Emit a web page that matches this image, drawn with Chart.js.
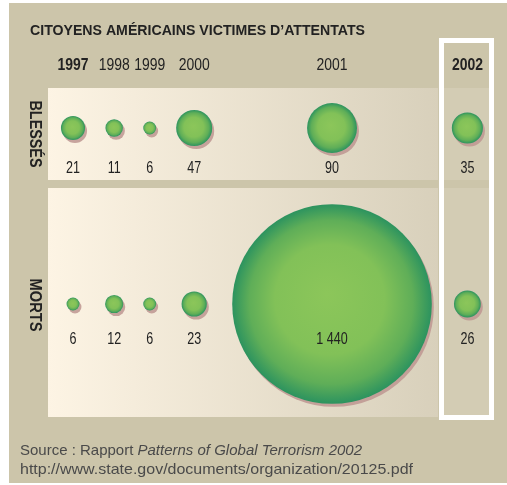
<!DOCTYPE html>
<html>
<head>
<meta charset="utf-8">
<script src="https://cdn.jsdelivr.net/npm/chart.js@4/dist/chart.umd.min.js"></script>
<style>
  html, body { margin: 0; padding: 0; background: #ffffff; }
  #wrap { width: 507px; height: 485px; position: relative; }
</style>
</head>
<body>
<div id="wrap"><canvas id="c"></canvas></div>
<script>
// ---- data ----
const title = "CITOYENS AMÉRICAINS VICTIMES D’ATTENTATS";
const years = ['1997', '1998', '1999', '2000', '2001', '2002'];
const boldYears = ['1997', '2002'];
const rows = ['BLESSÉS', 'MORTS'];
const blesses = [21, 11, 6, 47, 90, 35];
const morts = [6, 12, 6, 23, 1440, 26];
const sourceLine1a = 'Source : Rapport ';
const sourceLine1b = 'Patterns of Global Terrorism 2002';
const sourceLine2 = 'http://www.state.gov/documents/organization/20125.pdf';

// ---- layout helpers (derived from data) ----
const K = 2.63;           // px per sqrt(value)
const GAP = 20;           // px gap between neighbouring columns
const radius = v => K * Math.sqrt(v);
const series = [blesses, morts];
const colMax = years.map((y, i) => Math.max(...series.map(s => radius(s[i]))));
const pos = [];
years.forEach((y, i) => {
  pos.push(i === 0 ? 0 : pos[i - 1] + colMax[i - 1] + colMax[i] + GAP);
});

const SANS = "'Liberation Sans', Arial, sans-serif";
const NARROW_SX = 0.82;   // condensed look
const fmt = v => String(v).replace(/\B(?=(\d{3})+(?!\d))/g, ' ');

// draw text horizontally scaled by sx, anchored per align
function drawScaled(c, text, x, y, font, sx, align) {
  c.save();
  c.font = font;
  c.textAlign = align || 'left';
  c.textBaseline = 'middle';
  c.translate(x, y);
  c.scale(sx, 1);
  c.fillText(text, 0, 0);
  c.restore();
}
function drawFit(c, text, x, y, font, width, align) {
  c.save();
  c.font = font;
  const w = c.measureText(text).width;
  c.restore();
  drawScaled(c, text, x, y, font, width / w, align);
}

function bubbleFill(ctx) {
  if (ctx.type !== 'data') return '#6fb85a';
  const chart = ctx.chart;
  const xs = chart.scales.x, ys = chart.scales.y;
  if (!xs || !ys || !chart.chartArea) return '#6fb85a';
  const px = xs.getPixelForValue(ctx.parsed.x);
  const py = ys.getPixelForValue(ctx.parsed.y);
  const r = ctx.raw.r;
  if (!isFinite(px) || !isFinite(py) || !(r > 0)) return '#6fb85a';
  const g = chart.ctx.createRadialGradient(px - r * 0.05, py - r * 0.1, 0, px, py, r);
  g.addColorStop(0, '#8cc65a');
  g.addColorStop(0.55, '#82c158');
  g.addColorStop(0.82, '#5fae58');
  g.addColorStop(1, '#2c935f');
  return g;
}

const datasets = rows.map((row, ri) => ({
  label: row,
  data: years.map((yr, i) => ({ x: pos[i], y: row, r: radius(series[ri][i]), v: series[ri][i] })),
  backgroundColor: bubbleFill,
  borderWidth: 0,
  hoverBorderWidth: 0,
  clip: false
}));

const labelOffset = [40, 35];

const decor = {
  id: 'decor',
  beforeDraw(chart) {
    const c = chart.ctx;
    c.save();
    c.fillStyle = '#ffffff';
    c.fillRect(0, 0, 507, 485);
    c.fillStyle = '#ccc5aa';
    c.fillRect(9, 3, 498, 480);
    const panels = [[88, 180], [188, 417]];
    panels.forEach(([t, b]) => {
      const g = c.createLinearGradient(48, 0, 438, 0);
      g.addColorStop(0, '#fdf4e4');
      g.addColorStop(1, '#d8d0bb');
      c.fillStyle = g;
      c.fillRect(48, t, 390, b - t);
      c.fillStyle = '#d3ccb4';
      c.fillRect(444, t, 45, Math.min(b, 415) - t);
    });
    c.strokeStyle = '#ffffff';
    c.lineWidth = 5;
    c.strokeRect(441.5, 40.5, 50, 377);

    c.fillStyle = '#222222';
    drawFit(c, title, 30, 31, 'bold 14px ' + SANS, 335, 'left');

    c.fillStyle = '#4a4a4a';
    const f1 = '14.5px ' + SANS, f1i = 'italic 14.5px ' + SANS;
    c.font = f1;
    const wa = c.measureText(sourceLine1a).width;
    c.font = f1i;
    const wb = c.measureText(sourceLine1b).width;
    const s1 = 342 / (wa + wb);
    drawScaled(c, sourceLine1a, 20, 451, f1, s1, 'left');
    drawScaled(c, sourceLine1b, 20 + wa * s1, 451, f1i, s1, 'left');
    drawFit(c, sourceLine2, 20, 470, f1, 393, 'left');

    // row labels (rotated)
    c.fillStyle = '#222222';
    const rowCenters = [134, 305];
    const rowLens = [67, 53];
    rows.forEach((row, ri) => {
      c.save();
      c.translate(35, rowCenters[ri]);
      c.rotate(Math.PI / 2);
      drawFit(c, row, 0, 0, 'bold 16.5px ' + SANS, rowLens[ri], 'center');
      c.restore();
    });
    c.restore();
  },
  beforeDatasetsDraw(chart) {
    const c = chart.ctx;
    c.save();
    c.shadowColor = 'rgba(190,150,145,0.85)';
    c.shadowOffsetX = 2;
    c.shadowOffsetY = 3;
    c.shadowBlur = 0;
  },
  afterDatasetsDraw(chart) {
    chart.ctx.restore();
    const c = chart.ctx;
    const xs = chart.scales.x, ys = chart.scales.y;
    c.save();
    c.fillStyle = '#222222';
    years.forEach((yr, i) => {
      const font = (boldYears.includes(yr) ? 'bold ' : '') + '17px ' + SANS;
      drawScaled(c, yr, xs.getPixelForValue(pos[i]), 65, font, NARROW_SX, 'center');
    });
    rows.forEach((row, ri) => {
      const yp = ys.getPixelForValue(ri) + labelOffset[ri];
      series[ri].forEach((v, i) => {
        drawScaled(c, fmt(v), xs.getPixelForValue(pos[i]), yp, '16.5px ' + SANS, 0.76, 'center');
      });
    });
    c.restore();
  }
};

new Chart(document.getElementById('c'), {
  type: 'bubble',
  data: { labels: years, datasets },
  options: {
    responsive: true,
    maintainAspectRatio: false,
    animation: false,
    events: [],
    layout: { autoPadding: false, padding: { top: 128, bottom: 181, left: 0, right: 0 } },
    scales: {
      x: { type: 'linear', min: -73, max: 434, display: false },
      y: { type: 'category', labels: rows, offset: false, display: false }
    },
    plugins: { legend: { display: false }, tooltip: { enabled: false } }
  },
  plugins: [decor]
});
</script>
</body>
</html>
